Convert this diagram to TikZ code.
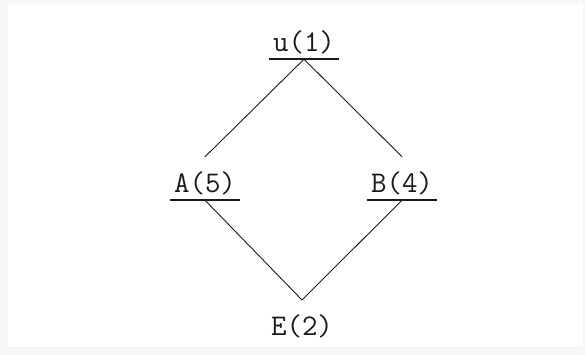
\documentclass[tikz,border=0pt]{standalone}
\usepackage{tikz}
\definecolor{framecol}{HTML}{f7f7f7}
\definecolor{linecol}{HTML}{1a1a1a}
\tikzset{
  lbl/.style={font=\fontsize{30}{30}\selectfont\ttfamily, text=linecol, anchor=base,
    inner xsep=4pt, inner ysep=7pt, text height=17pt, text depth=0pt},
  uline/.style={linecol, line width=1.6pt},
  link/.style={linecol, line width=0.9pt}
}
\begin{document}
\begin{tikzpicture}[x=1pt, y=-1pt]
    \useasboundingbox (0,0) rectangle (585,355);
    \fill[framecol] (0,0) rectangle (585,355);
    \fill[white] (8,4) rectangle (583,347);
    % labels
    \node[lbl] (u) at (304, 52) {u(1)};
    \node[lbl] (a) at (205, 193) {A(5)};
    \node[lbl] (b) at (402, 193) {B(4)};
    \node[lbl, outer ysep=11pt] (e) at (302, 335) {E(2)};
    % underlines
    \foreach \n in {u, a, b}{
      \draw[uline] (\n.south west) -- (\n.south east);
    }
    % links
    \draw[link] (u.south) -- ([yshift=12pt]a.north);
    \draw[link] (u.south) -- ([yshift=12pt]b.north);
    \draw[link] (a.south) -- (e.north);
    \draw[link] (b.south) -- (e.north);
\end{tikzpicture}
\end{document}
